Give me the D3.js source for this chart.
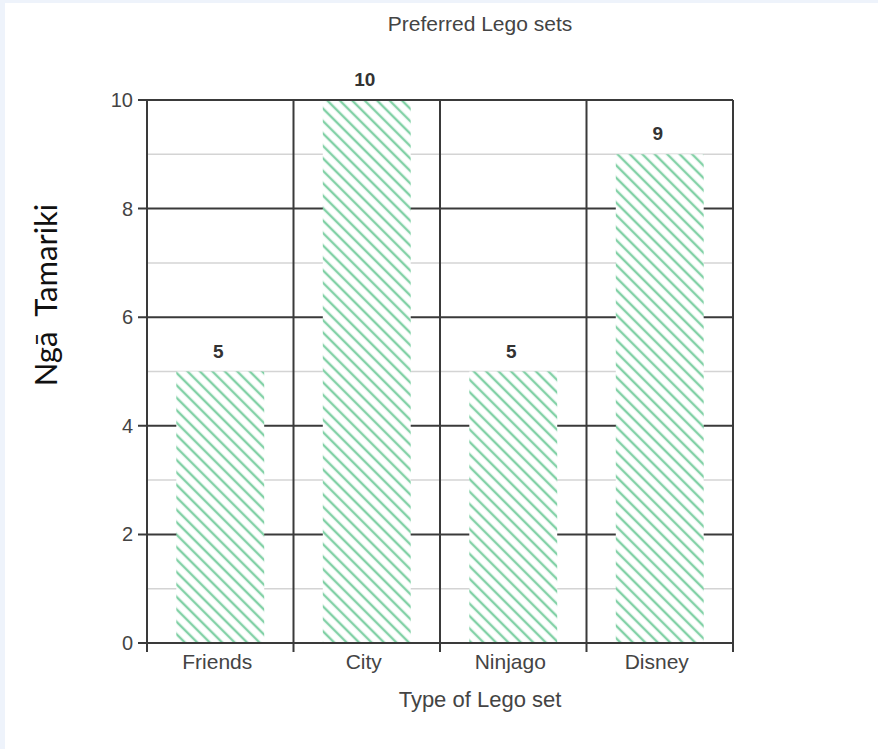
<!DOCTYPE html>
<html>
<head>
<meta charset="utf-8">
<script src="https://cdn.jsdelivr.net/npm/d3@7"></script>
<style>
  body { margin: 0; background: #eef3fb; }
  svg { display: block; }
</style>
</head>
<body>
<script>
let width = 878;
let height = 749;

// chart data
let categories = ['Friends', 'City', 'Ninjago', 'Disney'];
let counts = [5, 10, 5, 9];
let yTicks = [0, 2, 4, 6, 8, 10];
let minorTicks = [1, 3, 5, 7, 9];

let plotLeft = 147, plotRight = 733, plotTop = 100, plotBottom = 643;
let font = "'Liberation Sans', Arial, Helvetica, sans-serif";

let svg = d3.select("body").append("svg")
    .attr("width", width)
    .attr("height", height);

// white page panel
svg.append("rect")
    .attr("x", 5).attr("y", 3)
    .attr("width", width - 5).attr("height", height - 3)
    .style("fill", "#fff");

let defs = svg.append("defs");
let hatch = defs.append("pattern")
    .attr("id", "hatch")
    .attr("patternUnits", "userSpaceOnUse")
    .attr("width", 8.8)
    .attr("height", 8.8)
    .attr("patternTransform", "rotate(-45)");
hatch.append("rect").attr("width", 8.8).attr("height", 8.8).style("fill", "#fff");
hatch.append("line")
    .attr("x1", 2).attr("y1", 0).attr("x2", 2).attr("y2", 8.8)
    .style("stroke", "#82d1a6")
    .style("stroke-width", 2.4);

let x = d3.scaleBand()
    .domain(categories)
    .range([plotLeft, plotRight])
    .paddingInner(0)
    .paddingOuter(0);

let y = d3.scaleLinear()
    .domain([0, 10])
    .range([plotBottom, plotTop]);

let g = svg.append("g");

// minor gridlines
g.selectAll("line.minor").data(minorTicks).enter().append("line")
    .attr("x1", plotLeft).attr("x2", plotRight)
    .attr("y1", d => y(d)).attr("y2", d => y(d))
    .style("stroke", "#d4d4d4")
    .style("stroke-width", 1.5);

// major gridlines
g.selectAll("line.major").data(yTicks).enter().append("line")
    .attr("x1", plotLeft - 9).attr("x2", plotRight)
    .attr("y1", d => y(d)).attr("y2", d => y(d))
    .style("stroke", "#3a3a3a")
    .style("stroke-width", 2);

// bars
let barW = x.bandwidth() * 0.6;
g.selectAll("rect.bar").data(categories).enter().append("rect")
    .attr("x", d => x(d) + (x.bandwidth() - barW) / 2)
    .attr("y", (d, i) => y(counts[i]))
    .attr("width", barW)
    .attr("height", (d, i) => y(0) - y(counts[i]))
    .style("fill", "url(#hatch)");

// top and bottom border over bars
[10, 0].forEach(v => {
    g.append("line")
        .attr("x1", plotLeft - 9).attr("x2", plotRight)
        .attr("y1", y(v)).attr("y2", y(v))
        .style("stroke", "#3a3a3a")
        .style("stroke-width", 2);
});

// vertical band lines
let bounds = categories.map(d => x(d)).concat([plotRight]);
g.selectAll("line.vert").data(bounds).enter().append("line")
    .attr("x1", d => d).attr("x2", d => d)
    .attr("y1", plotTop).attr("y2", plotBottom + 9)
    .style("stroke", "#3a3a3a")
    .style("stroke-width", 2);

// y tick labels
g.selectAll("text.ytick").data(yTicks).enter().append("text")
    .attr("x", plotLeft - 14)
    .attr("y", d => y(d) + 7)
    .attr("text-anchor", "end")
    .style("font-family", font)
    .style("font-size", "20px")
    .style("fill", "#444")
    .text(d => d);

// x tick labels
g.selectAll("text.xtick").data(categories).enter().append("text")
    .attr("x", d => x(d) + x.bandwidth() / 2 - 3)
    .attr("y", plotBottom + 26)
    .attr("text-anchor", "middle")
    .style("font-family", font)
    .style("font-size", "21px")
    .style("fill", "#444")
    .text(d => d);

// value labels
g.selectAll("text.val").data(categories).enter().append("text")
    .attr("x", d => x(d) + x.bandwidth() / 2 - 2)
    .attr("y", (d, i) => y(counts[i]) - 14)
    .attr("text-anchor", "middle")
    .style("font-family", font)
    .style("font-size", "19px")
    .style("font-weight", "bold")
    .style("fill", "#333")
    .text((d, i) => counts[i]);

// title
svg.append("text")
    .attr("x", 480).attr("y", 31)
    .attr("text-anchor", "middle")
    .style("font-family", font)
    .style("font-size", "21px")
    .style("fill", "#444")
    .text("Preferred Lego sets");

// x axis title
svg.append("text")
    .attr("x", 480).attr("y", 707)
    .attr("text-anchor", "middle")
    .style("font-family", font)
    .style("font-size", "22px")
    .style("fill", "#444")
    .text("Type of Lego set");

// y axis title
svg.append("text")
    .attr("transform", "translate(57,295) rotate(-90)")
    .attr("text-anchor", "middle")
    .style("font-family", "Lato, 'Open Sans', sans-serif")
    .style("font-size", "31px")
    .style("fill", "#111")
    .style("white-space", "pre")
    .text("Ngā  Tamariki");
</script>
</body>
</html>
